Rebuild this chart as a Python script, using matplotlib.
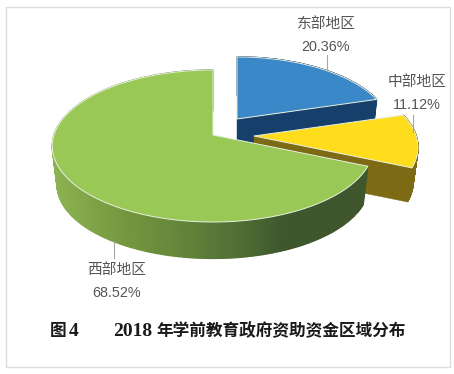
import numpy as np
import matplotlib
matplotlib.use('Agg')
import matplotlib.pyplot as plt
from matplotlib.patches import Polygon, Rectangle
from matplotlib.colors import to_rgb

regions = ['东部地区', '中部地区', '西部地区']
shares = [20.36, 11.12, 68.52]
top_colors = ['#3b88c8', '#ffdd1c', '#9ac856']
side_colors = ['#16406b', '#7d6a14', None]
apexes = [(237, 119), (254, 136), (213, 135)]
scales = [0.955, 1.02, 1.0]
depths = [37.0, 35.0, 39.0]

A, B = 159.0, 74.4
SHRINK = 0.97
fig = plt.figure(figsize=(4.54, 3.74), dpi=100, facecolor='white')
ax = fig.add_axes([0, 0, 1, 1])
ax.set_xlim(0, 454)
ax.set_ylim(374, 0)
ax.axis('off')
ax.add_patch(Rectangle((5.5, 6.5), 444, 360, fc='white', ec='#dddddd', lw=1))


def proj(t, apex, scale, depth=None):
    u, v = np.sin(t), np.cos(t)
    d = 1 + 0.145 * v
    s = scale * (SHRINK if depth is not None else 1.0)
    return np.column_stack([apex[0] + s * A * u / d,
                            apex[1] - s * B * v / d + (depth if depth is not None else 0)])


stops_x = [52, 120, 180, 240, 285, 370]
stops_c = ['#8cb352', '#75993f', '#64863a', '#4f6f35', '#3e572c', '#40562c']
stops_rgb = np.array([to_rgb(c) for c in stops_c])


def grad(x):
    return [np.interp(x, stops_x, stops_rgb[:, i]) for i in range(3)]


start = 0.0
for i, share in enumerate(shares):
    end = start + share / 100 * 2 * np.pi
    apex = apexes[i]
    depth = depths[i]
    t = np.linspace(start, end, 240)
    up, lo = proj(t, apex, scales[i]), proj(t, apex, scales[i], depth)
    a_lo = (apex[0], apex[1] + depth)
    if i < 2:
        ax.add_patch(Polygon([apex, up[-1], lo[-1], a_lo], fc=side_colors[i],
                             ec=side_colors[i], lw=0.3))
    for j in range(len(t) - 1):
        c = side_colors[i] if side_colors[i] else grad(up[j, 0])
        ax.add_patch(Polygon([up[j], up[j + 1], lo[j + 1], lo[j]], fc=c, ec=c, lw=1.0))
    ax.add_patch(Polygon(np.vstack([[apex], up]), fc=top_colors[i], ec='#e8f0e0',
                         lw=0.7, joinstyle='round'))
    start = end

for x, y0, y1 in [(326.5, 55, 70), (412.5, 115, 132), (113.5, 241, 258)]:
    ax.plot([x, x], [y0, y1], color='#a6a6a6', lw=0.8)

cjk = ['Noto Sans CJK SC', 'DejaVu Sans']
label_pos = [(326, 24, 47), (417, 82, 105), (117, 270, 293)]
for name, val, (x, y0, y1) in zip(regions, shares, label_pos):
    ax.text(x, y0, name, family=cjk, fontsize=10.6, color='#555555', ha='center', va='center')
    ax.text(x, y1, f'{val:.2f}%', family=['Liberation Sans'], fontsize=10.4, color='#555555',
            ha='center', va='center')

serif = ['Liberation Serif', 'Noto Sans CJK SC']
for x, s, size in [(50, '图', 12), (69, '4', 14), (113, '2018', 14),
                   (156, '年学前教育政府资助资金区域分布', 12)]:
    ax.text(x, 336, s, family=serif, fontsize=size, fontweight='bold', color='#1a1a1a',
            va='baseline')
fig.savefig('out.png', dpi=100)
